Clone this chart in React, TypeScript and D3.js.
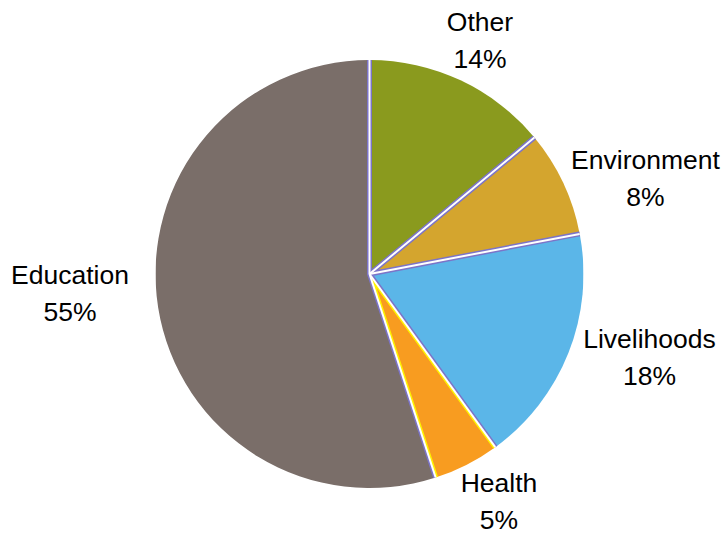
import React from "react";
import * as d3 from "d3";

const categories = ["Other", "Environment", "Livelihoods", "Health", "Education"];
const values = [14, 8, 18, 5, 55];
const percentLabels = ["14%", "8%", "18%", "5%", "55%"];

const fillColors = ["#8a9a1e", "#d4a52e", "#5bb6e8", "#f89c20", "#7a6e69"];
const borderColors = ["#7c74c8", "#7c74c8", "#7c74c8", "#fff200", "#7c74c8"];
// label offsets (first baseline) relative to pie centre
const labelOffsets: [number, number][] = [
  [110.5, -243],
  [276, -105],
  [280, 74],
  [129.5, 218],
  [-299.5, 10],
];

const W = 726;
const H = 534;
const CX = 369.5;
const CY = 274;
const R = 214;

export default function App() {
  const pie = d3
    .pie<number>()
    .sort(null)
    .value((d) => d)
    .startAngle(0)
    .endAngle(2 * Math.PI);
  const arcs = pie(values);
  const arcGen = d3.arc<d3.PieArcDatum<number>>().innerRadius(0).outerRadius(R);
  const bigArc = d3.arc<d3.PieArcDatum<number>>().innerRadius(0).outerRadius(R + 6);

  const boundaries = arcs.map((a) => a.startAngle);

  return (
    <svg
      width={W}
      height={H}
      style={{ position: "absolute", left: 0, top: 0, background: "#fff" }}
      fontFamily="'Liberation Sans', Arial, sans-serif"
    >
      <defs>
        {arcs.map((a, i) => (
          <clipPath id={`clip${i}`} key={i}>
            <path d={arcGen(a) || ""} />
          </clipPath>
        ))}
      </defs>
      <g transform={`translate(${CX},${CY})`}>
        {arcs.map((a, i) => (
          <g key={i} clipPath={`url(#clip${i})`}>
            <path
              d={bigArc(a) || ""}
              fill={fillColors[i]}
              stroke={borderColors[i]}
              strokeWidth={5}
              strokeLinejoin="miter"
            />
          </g>
        ))}
        {boundaries.map((ang, i) => (
          <line
            key={i}
            x1={0}
            y1={0}
            x2={Math.sin(ang) * R}
            y2={-Math.cos(ang) * R}
            stroke="#ffffff"
            strokeWidth={2}
          />
        ))}
      </g>
      {categories.map((c, i) => (
        <text
          key={c}
          x={CX + labelOffsets[i][0]}
          y={CY + labelOffsets[i][1]}
          textAnchor="middle"
          fontSize={26.5}
          fill="#000"
        >
          <tspan x={CX + labelOffsets[i][0]}>{c}</tspan>
          <tspan x={CX + labelOffsets[i][0]} dy={37}>
            {percentLabels[i]}
          </tspan>
        </text>
      ))}
    </svg>
  );
}
